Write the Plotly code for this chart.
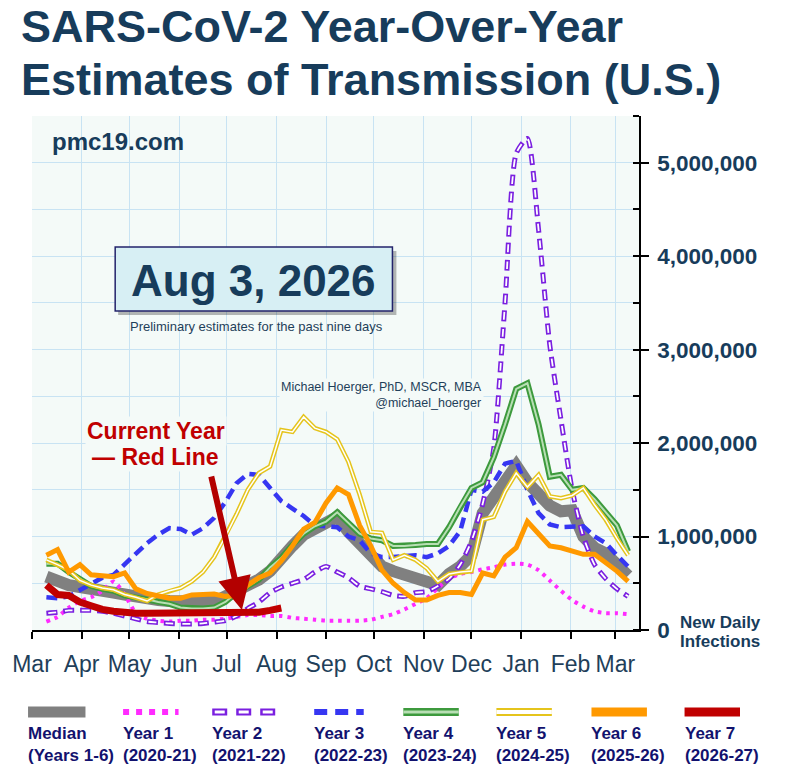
import pandas as pd
import plotly.graph_objects as go

# weekly estimates, plotted on a Mar -> mid-Mar "season" axis
weeks = pd.date_range("2026-03-10", periods=53, freq="7D")

# new daily infections, millions
median = [0.57, 0.52, 0.48, 0.46, 0.43, 0.41, 0.40, 0.38, 0.35, 0.33, 0.32, 0.31, 0.30, 0.29,
          0.29, 0.30, 0.36, 0.42, 0.47, 0.54, 0.63, 0.78, 0.90, 1.02, 1.09, 1.14, 1.21, 1.05,
          0.92, 0.78, 0.68, 0.63, 0.60, 0.57, 0.52, 0.48, 0.60, 0.68, 0.80, 1.25, 1.42, 1.60,
          1.76, 1.58, 1.45, 1.33, 1.27, 1.28, 1.00, 0.88, 0.82, 0.70, 0.58]
year1 = [0.09, 0.14, 0.24, 0.31, 0.35, 0.42, 0.52, 0.38, 0.18, 0.12, 0.10, 0.09, 0.10, 0.10,
         0.11, 0.11, 0.12, 0.14, 0.16, 0.16, 0.15, 0.15, 0.13, 0.12, 0.11, 0.10, 0.10, 0.10,
         0.10, 0.11, 0.14, 0.17, 0.22, 0.28, 0.34, 0.45, 0.55, 0.60, 0.62, 0.65, 0.67, 0.70,
         0.71, 0.70, 0.64, 0.53, 0.42, 0.32, 0.25, 0.20, 0.18, 0.18, 0.17]
year2 = [0.18, 0.19, 0.21, 0.21, 0.21, 0.20, 0.18, 0.15, 0.12, 0.09, 0.08, 0.07, 0.065, 0.065,
         0.07, 0.085, 0.10, 0.15, 0.23, 0.30, 0.40, 0.46, 0.50, 0.54, 0.62, 0.68, 0.62, 0.56,
         0.47, 0.44, 0.41, 0.37, 0.36, 0.40, 0.41, 0.47, 0.55, 0.70, 0.95, 1.35, 1.95, 3.50,
         5.10, 5.26, 4.28, 3.05, 2.25, 1.50, 1.00, 0.70, 0.55, 0.44, 0.36]
year3 = [0.35, 0.34, 0.36, 0.43, 0.50, 0.56, 0.59, 0.70, 0.82, 0.93, 1.02, 1.09, 1.08, 1.02,
         1.09, 1.20, 1.37, 1.57, 1.67, 1.66, 1.52, 1.38, 1.30, 1.22, 1.12, 1.11, 1.10, 1.00,
         0.96, 0.82, 0.78, 0.78, 0.79, 0.80, 0.78, 0.82, 0.90, 1.06, 1.50, 1.48, 1.58, 1.78,
         1.81, 1.50, 1.25, 1.13, 1.10, 1.11, 1.11, 1.00, 0.93, 0.80, 0.68]
year4 = [0.71, 0.71, 0.62, 0.55, 0.47, 0.44, 0.42, 0.37, 0.35, 0.33, 0.30, 0.28, 0.24, 0.23,
         0.23, 0.24, 0.30, 0.40, 0.47, 0.54, 0.67, 0.77, 0.91, 1.03, 1.11, 1.16, 1.26, 1.14,
         1.03, 0.98, 0.96, 0.90, 0.90, 0.91, 0.92, 0.92, 1.10, 1.32, 1.52, 1.58, 1.85, 2.20,
         2.58, 2.64, 2.20, 1.64, 1.66, 1.50, 1.52, 1.40, 1.26, 1.12, 0.84]
year5 = [0.75, 0.70, 0.64, 0.53, 0.48, 0.45, 0.43, 0.38, 0.35, 0.31, 0.38, 0.42, 0.45, 0.52,
         0.62, 0.78, 1.00, 1.24, 1.50, 1.68, 1.75, 2.14, 2.12, 2.28, 2.16, 2.12, 2.04, 1.80,
         1.45, 1.05, 1.04, 0.75, 0.80, 0.75, 0.66, 0.52, 0.60, 0.62, 0.63, 1.18, 1.21, 1.48,
         1.68, 1.53, 1.66, 1.43, 1.41, 1.44, 1.52, 1.34, 1.18, 0.98, 0.80]
year6 = [0.80, 0.86, 0.62, 0.70, 0.59, 0.58, 0.57, 0.61, 0.44, 0.39, 0.36, 0.34, 0.34, 0.375,
         0.38, 0.385, 0.36, 0.37, 0.48, 0.56, 0.61, 0.74, 0.90, 1.08, 1.15, 1.36, 1.52, 1.45,
         1.12, 0.90, 0.64, 0.50, 0.40, 0.32, 0.32, 0.37, 0.40, 0.40, 0.38, 0.61, 0.58, 0.78,
         0.88, 1.16, 1.03, 0.90, 0.88, 0.85, 0.81, 0.81, 0.72, 0.63, 0.52]
year7 = [0.48, 0.38, 0.37, 0.30, 0.26, 0.22, 0.20, 0.185, 0.18, 0.18, 0.18, 0.18, 0.18, 0.18,
         0.18, 0.18, 0.18, 0.18, 0.185, 0.19, 0.21, 0.235]

y_ticks = [0, 1, 2, 3, 4, 5]
legend_labels = ["Median<br>(Years 1-6)", "Year 1<br>(2020-21)", "Year 2<br>(2021-22)",
                 "Year 3<br>(2022-23)", "Year 4<br>(2023-24)", "Year 5<br>(2024-25)",
                 "Year 6<br>(2025-26)", "Year 7<br>(2026-27)"]

NAVY = "#173c5b"
SLATE = "#1f3f5a"
LEG = "#12126e"
GRID = "#c8e3f3"
BG = "#f4faf8"
FONT = "Liberation Sans, Arial, sans-serif"

# hollow dashes: white core sits inside each purple dash (same 17px period)
HOLLOW_OUT = "11px,6px"
HOLLOW_IN = "0px,1.6px,7.8px,7.6px"

# each series: values, stacked line layers (color, width, dash), smooth?
series = [
    (median, [("#808080", 12, "solid")], False),
    (year1, [("#ff2bff", 4, "3.5px,5px")], True),
    (year2, [("#7a1fe0", 5, HOLLOW_OUT), ("white", 1.8, HOLLOW_IN)], True),
    (year3, [("#3636f2", 4.5, "11px,6px")], False),
    (year4, [("#3d9a3d", 6, "solid"), ("#b8dfb4", 2, "solid")], False),
    (year5, [("#e5c41c", 4.5, "solid"), ("white", 1.5, "solid")], False),
    (year6, [("#ff9900", 5, "solid")], False),
    (year7, [("#c00000", 7, "solid")], False),
]

fig = go.Figure()
for vals, layers, smooth in series:
    for color, width, dash in layers:
        fig.add_trace(go.Scatter(
            x=weeks[:len(vals)], y=[v * 1e6 for v in vals], mode="lines",
            line=dict(color=color, width=width, dash=dash,
                      shape="spline" if smooth else "linear", smoothing=0.6),
            showlegend=False, hoverinfo="skip"))

# pixel -> paper helpers (plot area is 26..639 x 116..630)
L, R, T, B = 26, 639, 116, 630
def fx(px): return (px - L) / (R - L)
def fy(py): return (B - py) / (B - T)

shapes = [
    dict(type="rect", xref="paper", yref="paper", x0=fx(113), x1=fx(394), y0=fy(251), y1=fy(315),
         fillcolor="rgba(0,0,0,0.28)", line=dict(width=0)),
    dict(type="rect", xref="paper", yref="paper", x0=fx(110), x1=fx(390), y0=fy(247), y1=fy(311),
         fillcolor="#d7eff4", line=dict(color="#23236b", width=1.5)),
]

# bottom legend samples
leg_x = [22, 118, 208, 311, 401, 495, 591, 685]
leg_len = [58, 56, 64, 50, 56, 56, 56, 56]
leg_layers = [
    [("#808080", 11, "solid")],
    [("#ff2bff", 6, "6px,7px")],
    [("#7a1fe0", 7, "15px,9px"), ("white", 3, "0px,2.5px,10px,11.5px")],
    [("#3636f2", 6, "13px,8px")],
    [("#3d9a3d", 8, "solid"), ("#b8dfb4", 3, "solid")],
    [("#e5c41c", 8, "solid"), ("white", 4, "solid")],
    [("#ff9900", 9, "solid")],
    [("#c00000", 9, "solid")],
]
annotations = []
for x0, ln, layers, lab in zip(leg_x, leg_len, leg_layers, legend_labels):
    for color, width, dash in layers:
        shapes.append(dict(type="line", xref="paper", yref="paper", x0=fx(x0), x1=fx(x0 + ln),
                           y0=fy(712), y1=fy(712), line=dict(color=color, width=width, dash=dash)))
    annotations.append(dict(text=f"<b>{lab}</b>", xref="paper", yref="paper", x=fx(x0 - 2),
                            y=fy(722), xanchor="left", yanchor="top", align="left", showarrow=False,
                            font=dict(family=FONT, size=17, color=LEG)))

def note(text, px, py, size, color=NAVY, xanchor="center", align="center", bg=None):
    annotations.append(dict(text=text, xref="paper", yref="paper", x=fx(px), y=fy(py),
                            xanchor=xanchor, yanchor="middle", align=align, showarrow=False,
                            bgcolor=bg, borderpad=1,
                            font=dict(family=FONT, size=size, color=color)))

note("<b>SARS-CoV-2 Year-Over-Year</b>", 13, 27, 45, xanchor="left")
note("<b>Estimates of Transmission (U.S.)</b>", 13, 79, 45, xanchor="left")
note("<b>pmc19.com</b>", 44, 141, 24, xanchor="left")
note("<b>Aug 3, 2026</b>", 250, 280, 44)
note("Preliminary estimates for the past nine days", 253, 326, 13, color=SLATE)
note("Michael Hoerger, PhD, MSCR, MBA<br>@michael_hoerger", 482, 395, 12.5, color=SLATE,
     xanchor="right", align="right", bg=BG)
note("<b>Current Year</b>", 151, 431, 23, color="#c00000", bg=BG)
note("<b>— Red Line</b>", 151, 457, 23, color="#c00000", bg=BG)
note("<b>New Daily</b>", 678, 622, 17, xanchor="left")
note("<b>Infections</b>", 678, 641, 17, xanchor="left")

# arrow pointing at the current-year line
annotations.append(dict(text="", xref="paper", yref="paper", x=fx(238), y=fy(610),
                        ax=-31, ay=-135, showarrow=True, arrowhead=2, arrowsize=1.1,
                        arrowwidth=6, arrowcolor="#b30000"))

fig.update_layout(
    width=786, height=770, autosize=False,
    margin=dict(l=L, r=786 - R, t=T, b=770 - B),
    paper_bgcolor="white", plot_bgcolor=BG,
    showlegend=False,
    xaxis=dict(type="date", range=["2026-03-01", "2027-03-15 20:00"], tick0="2026-03-01",
               dtick="M1", tickformat="%b", showgrid=True, gridcolor=GRID, gridwidth=1,
               showline=True, linecolor="black", linewidth=1.5, ticks="outside", ticklen=7,
               tickcolor="black", tickwidth=1.5, ticklabelstandoff=6,
               tickfont=dict(family="Liberation Sans Narrow, Arial Narrow, Liberation Sans",
                             size=23, color=SLATE), zeroline=False),
    yaxis=dict(side="right", range=[0, 5.5e6], tickvals=[v * 1e6 for v in y_ticks],
               ticktext=[f"{v * 1_000_000:,}" for v in y_ticks], showgrid=True, gridcolor=GRID,
               showline=True, linecolor="black", linewidth=1.5, ticks="outside", ticklen=8,
               tickcolor="black", tickwidth=1.5, ticklabelstandoff=4, zeroline=False,
               minor=dict(tick0=0, dtick=500000, showgrid=True, gridcolor=GRID, ticks="inside",
                          ticklen=6, tickcolor="black", tickwidth=1.5),
               tickfont=dict(family=FONT, size=22.5, color=NAVY, weight="bold")),
    shapes=shapes,
    annotations=annotations,
)

# page margin and scrollbars off so the 786x770 figure fills the window exactly
fig.write_html("out.html", config={"displayModeBar": False},
               post_script="document.body.style.margin='0';"
                           "document.documentElement.style.overflow='hidden';")
